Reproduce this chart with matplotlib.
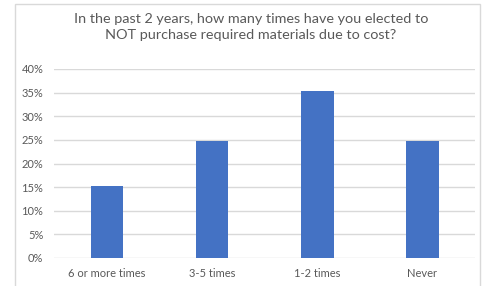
import matplotlib.pyplot as plt
from matplotlib.patches import Rectangle
from matplotlib.ticker import PercentFormatter

categories = ['6 or more times', '3-5 times', '1-2 times', 'Never']
shares = [15.2, 24.7, 35.4, 24.7]
yticks = [0, 5, 10, 15, 20, 25, 30, 35, 40]

plt.rcParams['font.family'] = ['Lato', 'DejaVu Sans']

W, H = 489, 286
fig = plt.figure(figsize=(W / 100, H / 100), dpi=100)
fig.patch.set_facecolor('white')

# chart frame (runs off the bottom of the picture)
fig.patches.append(Rectangle((15 / W, -0.05), 465 / W, 1.05 - 4 / H,
                             transform=fig.transFigure, fill=False,
                             edgecolor='#d9d9d9', linewidth=1))

ax = fig.add_axes([54.5 / W, 28 / H, (475 - 54.5) / W, (258 - 69) / H])
x = range(len(categories))
ax.bar(x, shares, width=0.31, color='#4472c4', zorder=3)

ax.set_xlim(-0.5, len(categories) - 0.5)
ax.set_ylim(0, 40)
ax.set_yticks(yticks)
ax.yaxis.set_major_formatter(PercentFormatter(decimals=0))
ax.set_xticks(list(x))
ax.set_xticklabels(categories)
ax.grid(axis='y', color='#d9d9d9', linewidth=1, zorder=0)
for s in ax.spines.values():
    s.set_visible(False)
ax.tick_params(length=0, labelsize=8, colors='#595959')
ax.tick_params(axis='y', pad=8)
ax.tick_params(axis='x', pad=7)

fig.text(251 / W, 1 - 27 / H,
         'In the past 2 years, how many times have you elected to\nNOT purchase required materials due to cost?',
         ha='center', va='center', fontsize=10.4, color='#595959', linespacing=1.45)

fig.savefig('out.png', dpi=100)
